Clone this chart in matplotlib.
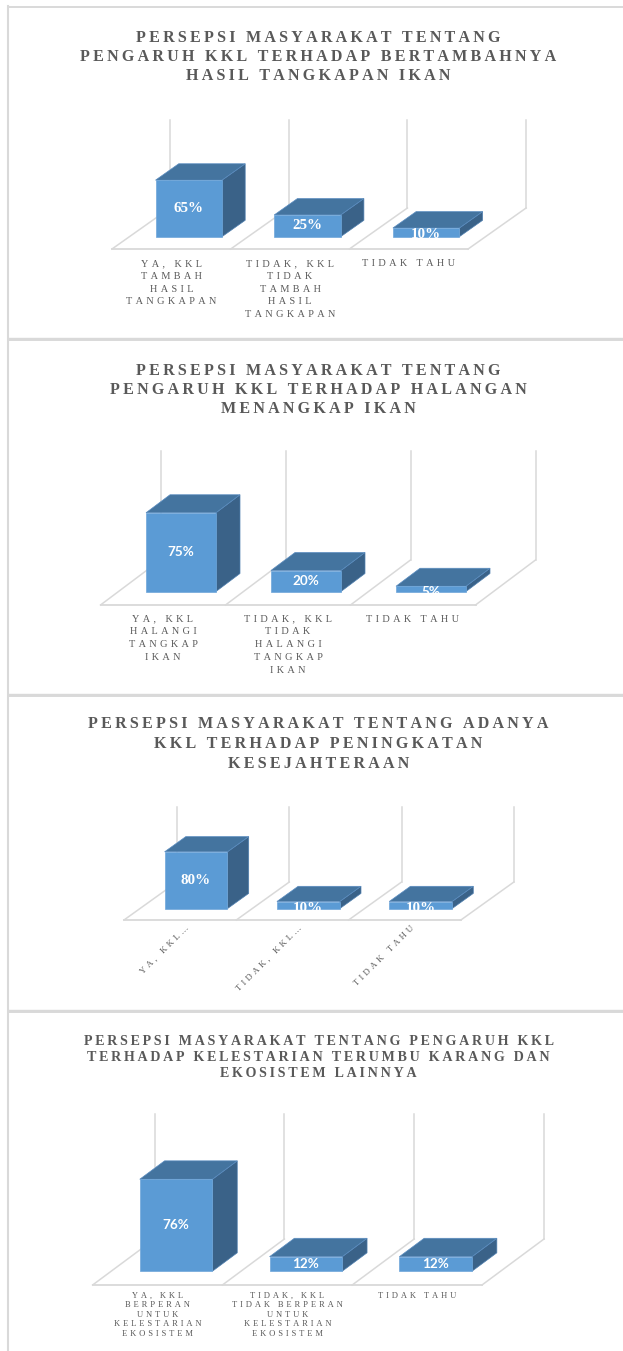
import matplotlib
matplotlib.use("Agg")
import matplotlib.pyplot as plt
from matplotlib.patches import Polygon
import numpy as np

W, H = 623, 1351
SERIF = ['Liberation Serif', 'DejaVu Serif']
SANS = ['Lato', 'DejaVu Sans']
GRAY = '#595959'
LINE = '#D9D9D9'
FRONT = '#5B9BD5'
TOP = '#44749F'
SIDE = '#3A6288'

# ---- data ----
title_1 = "PERSEPSI MASYARAKAT TENTANG\nPENGARUH KKL TERHADAP BERTAMBAHNYA\nHASIL TANGKAPAN IKAN"
labels_1 = ["YA, KKL\nTAMBAH\nHASIL\nTANGKAPAN",
            "TIDAK, KKL\nTIDAK\nTAMBAH\nHASIL\nTANGKAPAN",
            "TIDAK TAHU"]
values_1 = [65, 25, 10]

title_2 = "PERSEPSI MASYARAKAT TENTANG\nPENGARUH KKL TERHADAP HALANGAN\nMENANGKAP IKAN"
labels_2 = ["YA, KKL\nHALANGI\nTANGKAP\nIKAN",
            "TIDAK, KKL\nTIDAK\nHALANGI\nTANGKAP\nIKAN",
            "TIDAK TAHU"]
values_2 = [75, 20, 5]

title_3 = "PERSEPSI MASYARAKAT TENTANG ADANYA\nKKL TERHADAP PENINGKATAN\nKESEJAHTERAAN"
labels_3 = ["YA, KKL…", "TIDAK, KKL…", "TIDAK TAHU"]
values_3 = [80, 10, 10]

title_4 = "PERSEPSI MASYARAKAT TENTANG PENGARUH KKL\nTERHADAP KELESTARIAN TERUMBU KARANG DAN\nEKOSISTEM LAINNYA"
labels_4 = ["YA, KKL\nBERPERAN\nUNTUK\nKELESTARIAN\nEKOSISTEM",
            "TIDAK, KKL\nTIDAK BERPERAN\nUNTUK\nKELESTARIAN\nEKOSISTEM",
            "TIDAK TAHU"]
values_4 = [76, 12, 12]

# ---- layout of each panel (pixels) ----
panels = [
    dict(title=title_1, labels=labels_1, values=values_1, top=6, bottom=338,
         floor_y=249, x0=112, cat_w=118.7, ppp=0.87, dx=58, dy=41, wall_px=88,
         title_top=30.5, title_px=16, title_ls=1.23, lab_px=10.2, lab_ls=1.52,
         lab_top=259.5, val_family=SERIF, val_px=15, rotate=False),
    dict(title=title_2, labels=labels_2, values=values_2, top=339, bottom=694,
         floor_y=605, x0=100.5, cat_w=125, ppp=1.05, dx=60, dy=45, wall_px=109,
         title_top=363, title_px=16, title_ls=1.24, lab_px=10.3, lab_ls=1.56,
         lab_top=614.5, val_family=SANS, val_px=13.5, rotate=False),
    dict(title=title_3, labels=labels_3, values=values_3, top=695, bottom=1010,
         floor_y=920, x0=124, cat_w=112.3, ppp=0.71, dx=53, dy=38, wall_px=75,
         title_top=716.5, title_px=16, title_ls=1.30, lab_px=8.9, lab_ls=1.5,
         lab_top=924, val_family=SERIF, val_px=15, rotate=True),
    dict(title=title_4, labels=labels_4, values=values_4, top=1011, bottom=1351,
         floor_y=1285, x0=92.6, cat_w=129.8, ppp=1.21, dx=62, dy=46, wall_px=125,
         title_top=1035, title_px=14, title_ls=1.30, lab_px=8.5, lab_ls=1.24,
         lab_top=1292, val_family=SANS, val_px=13.5, rotate=False),
]

PT = 0.72  # px -> pt at dpi 100


def spaced(text, gap):
    return "\n".join(gap.join(line) for line in text.split("\n"))


fig = plt.figure(figsize=(W / 100, H / 100), dpi=100)
fig.patch.set_facecolor('white')

# frames around the panels
bg = fig.add_axes([0, 0, 1, 1])
bg.set_xlim(0, W)
bg.set_ylim(H, 0)
bg.axis('off')
bg.plot([7.5, 7.5], [6, H], color=LINE, lw=1.5)
for p in panels:
    bg.plot([7.5, W], [p['top'] + 0.5, p['top'] + 0.5], color=LINE, lw=1.4)
    if p['bottom'] < H:
        bg.plot([7.5, W], [p['bottom'] - 0.5, p['bottom'] - 0.5], color=LINE, lw=1.0)

d0, d1, bw = 0.3, 0.7, 0.56

for p in panels:
    top, bottom = p['top'], p['bottom']
    ax = fig.add_axes([0, 1 - bottom / H, 1, (bottom - top) / H])
    ax.axis('off')
    cx = lambda px: (px - p['x0']) / p['cat_w'] - 0.5
    vy = lambda py: (p['floor_y'] - py) / p['ppp']
    ax.set_xlim(cx(0), cx(W))
    ax.set_ylim(vy(bottom), vy(top))

    ox = p['dx'] / p['cat_w']
    oy = p['dy'] / p['ppp']
    wall = p['wall_px'] / p['ppp']

    # floor and back wall lines
    ax.plot([-0.5, 2.5], [0, 0], color=LINE, lw=1.3, zorder=1)
    for k in range(4):
        xf = k - 0.5
        ax.plot([xf, xf + ox], [0, oy], color=LINE, lw=1.1, zorder=1)
        ax.plot([xf + ox, xf + ox], [oy, oy + wall], color=LINE, lw=1.1, zorder=1)

    vals = np.array(p['values'], dtype=float)
    xs = np.arange(len(vals))
    fx = xs + d0 * ox
    fb = d0 * oy
    ddx, ddy = (d1 - d0) * ox, (d1 - d0) * oy

    bars = ax.bar(fx, vals, width=bw, bottom=fb, color=FRONT,
                  edgecolor='#6FA6DA', linewidth=0.5, zorder=4)
    for i, (x, v) in enumerate(zip(fx, vals)):
        l, r, t = x - bw / 2, x + bw / 2, fb + v
        ax.add_patch(Polygon([(r, fb), (r + ddx, fb + ddy), (r + ddx, t + ddy), (r, t)],
                             closed=True, facecolor=SIDE, edgecolor='#4F7FAF',
                             linewidth=0.5, zorder=3))
        ax.add_patch(Polygon([(l, t), (r, t), (r + ddx, t + ddy), (l + ddx, t + ddy)],
                             closed=True, facecolor=TOP, edgecolor='#5A8CC0',
                             linewidth=0.5, zorder=3))
        # value label, clipped to the front face
        if v * p['ppp'] < 14:
            txt = ax.text(x, t, f"{int(v)}%", ha='center', va='top',
                          color='white', fontsize=p['val_px'] * PT,
                          fontweight='bold', family=p['val_family'], zorder=5)
        else:
            txt = ax.text(x, fb + v / 2, f"{int(v)}%", ha='center', va='center',
                          color='white', fontsize=p['val_px'] * PT,
                          fontweight='bold', family=p['val_family'], zorder=5)
        txt.set_clip_path(bars.patches[i])

    # title
    ax.text(cx(318.5), vy(p['title_top']), spaced(p['title'], '\u2009'),
            ha='center', va='top', multialignment='center', color=GRAY,
            fontsize=p['title_px'] * PT, fontweight='bold', family=SERIF,
            linespacing=p['title_ls'], zorder=6)

    # category labels
    for i, lab in enumerate(p['labels']):
        if p['rotate']:
            ax.text(i + 5 / p['cat_w'], vy(p['lab_top']), spaced(lab, '\u2004'),
                    ha='right', va='top', rotation=45, rotation_mode='anchor',
                    color=GRAY, fontsize=p['lab_px'] * PT, family=SERIF, zorder=6)
        else:
            ax.text(i, vy(p['lab_top']), spaced(lab, '\u2004'),
                    ha='center', va='top', multialignment='center', color=GRAY,
                    fontsize=p['lab_px'] * PT, family=SERIF,
                    linespacing=p['lab_ls'], zorder=6)

fig.savefig('out.png', dpi=100, facecolor='white')
